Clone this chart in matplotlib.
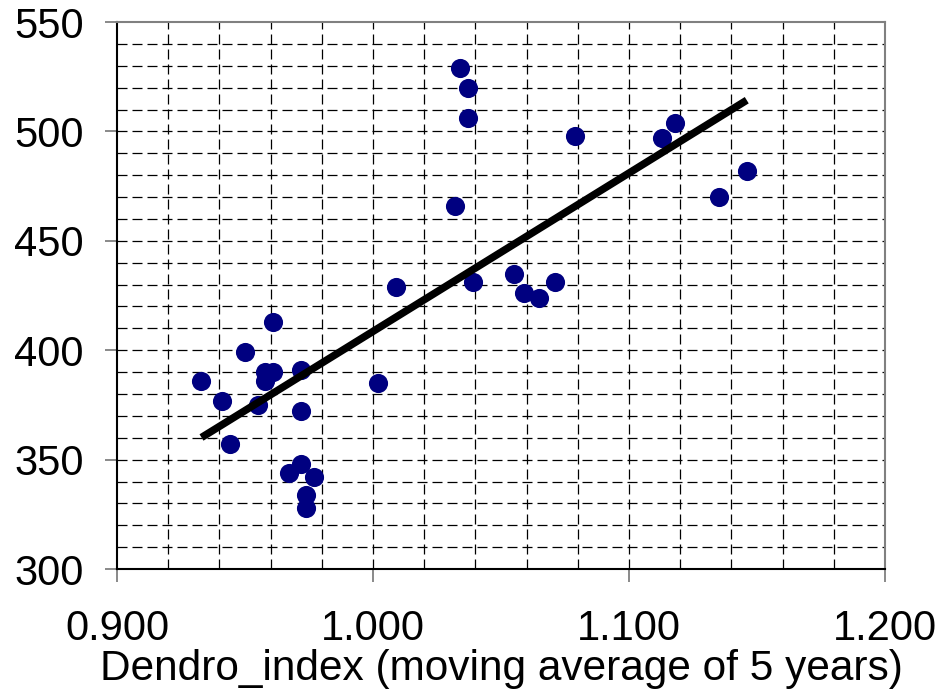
import numpy as np
import matplotlib.pyplot as plt

plt.rcParams['font.family'] = ['Liberation Sans', 'DejaVu Sans']

# dendro index (5-year moving average) vs. measured value
dendro = [0.933, 0.941, 0.944, 0.950, 0.955, 0.958, 0.958, 0.961, 0.961,
          0.972, 0.972, 0.967, 0.972, 0.977, 0.974, 0.974, 1.002, 1.009,
          1.034, 1.037, 1.037, 1.032, 1.039, 1.055, 1.059, 1.065, 1.071,
          1.079, 1.113, 1.118, 1.135, 1.146]
values = [386, 377, 357, 399, 375, 390, 386, 390, 413,
          391, 372, 344, 348, 342, 334, 328, 385, 429,
          529, 520, 506, 466, 431, 435, 426, 424, 431,
          498, 497, 504, 470, 482]

x = np.array(dendro)
y = np.array(values)
slope, intercept = np.polyfit(x, y, 1)

fig = plt.figure(figsize=(9.46, 6.97), dpi=100)
ax = fig.add_axes([0.1237, 0.1836, 0.8118, 0.7848])

# dashed grid every 0.02 / 10 units
dash = (0, (8, 4))
for gx in np.arange(0.92, 1.2, 0.02):
    ax.axvline(gx, color='black', lw=0.9, ls=dash, zorder=1)
for gy in range(310, 550, 10):
    ax.axhline(gy, color='black', lw=0.9, ls=dash, zorder=1)

ax.scatter(x, y, s=190, color='#000080', zorder=3, linewidths=0)
xl = np.array([x.min(), x.max()])
ax.plot(xl, slope * xl + intercept, color='black', lw=5.4, zorder=4,
        solid_capstyle='butt')

ax.set_xlim(0.9, 1.2)
ax.set_ylim(300, 550)
ax.set_xticks([0.9, 1.0, 1.1, 1.2])
ax.set_xticklabels(['0.900', '1.000', '1.100', '1.200'])
ax.set_yticks([300, 350, 400, 450, 500, 550])
ax.tick_params(labelsize=30, length=9, width=1.3, color='#808080')
ax.tick_params(axis='y', pad=15)
ax.tick_params(axis='x', pad=20)

ax.spines['left'].set_color('black')
ax.spines['bottom'].set_color('black')
ax.spines['top'].set_color('#808080')
ax.spines['right'].set_color('#808080')
for s in ax.spines.values():
    s.set_linewidth(1.5)

ax.set_xlabel('Dendro_index (moving average of 5 years)', fontsize=30.5,
              labelpad=0)

fig.savefig('out.png', dpi=100)
